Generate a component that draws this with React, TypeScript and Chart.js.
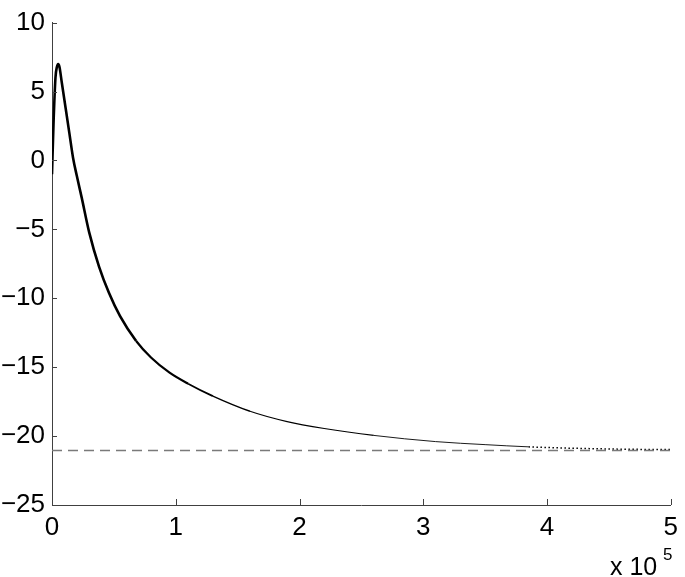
import React, { useEffect, useRef } from "react";
import { Chart, registerables } from "chart.js";

Chart.register(...registerables);

// Curve samples (x in raw units, y value)
const curveX = [
  0, 1200, 2800, 4000, 5000, 6000, 8000, 11000, 14000, 17000, 20000, 24000,
  30000, 38000, 46000, 55000, 68000, 80000, 95000, 110000, 130000, 160000,
  190000, 220000, 260000, 310000, 350000, 385000, 420000, 460000, 500000,
];
const curveY = [
  -1.0, 2.6, 6.0, 6.8, 7.0, 6.8, 5.6, 3.8, 2.0, 0.2, -1.1, -2.7,
  -5.2, -7.7, -9.6, -11.3, -13.1, -14.3, -15.4, -16.2, -17.1, -18.2,
  -18.95, -19.45, -19.95, -20.4, -20.62, -20.78, -20.88, -20.95, -20.98,
];
const refX = [0, 500000];
const refY = [-21.05, -21.05];
const xTickValues = [0, 100000, 200000, 300000, 400000, 500000];
const yTickValues = [-25, -20, -15, -10, -5, 0, 5, 10];
const exponentBase = "x 10";
const exponentPower = "5";

const FONT = "'Liberation Sans', Arial, Helvetica, sans-serif";

export default function App() {
  const ref = useRef<HTMLCanvasElement | null>(null);

  useEffect(() => {
    document.body.style.margin = "0";
    const canvas = ref.current;
    if (!canvas) return;

    const inwardTicks = {
      id: "inwardTicks",
      afterDraw(chart: any) {
        const { ctx, chartArea, scales } = chart;
        ctx.save();
        ctx.strokeStyle = "#404040";
        ctx.lineWidth = 1;
        ctx.beginPath();
        for (const v of yTickValues) {
          const py = Math.round(scales.y.getPixelForValue(v)) + 0.5;
          ctx.moveTo(chartArea.left, py);
          ctx.lineTo(chartArea.left + 5, py);
        }
        for (const v of xTickValues) {
          const px = Math.round(scales.x.getPixelForValue(v)) + 0.5;
          ctx.moveTo(px, chartArea.bottom);
          ctx.lineTo(px, chartArea.bottom - 6);
        }
        ctx.stroke();
        ctx.fillStyle = "#000";
        ctx.textAlign = "left";
        ctx.textBaseline = "alphabetic";
        ctx.font = `25px ${FONT}`;
        ctx.fillText(exponentBase, 610, 575);
        ctx.font = `17px ${FONT}`;
        ctx.fillText(exponentPower, 663, 560);
        ctx.restore();
      },
    };

    const chart = new Chart(canvas, {
      type: "line",
      data: {
        datasets: [
          {
            data: refX.map((x, i) => ({ x, y: refY[i] })),
            borderColor: "#7a7a7a",
            borderWidth: 1.5,
            borderDash: [10, 6],
            pointRadius: 0,
            fill: false,
          },
          {
            data: curveX.map((x, i) => ({ x, y: curveY[i] })),
            borderColor: "#000",
            borderWidth: 2.5,
            pointRadius: 0,
            cubicInterpolationMode: "monotone",
            fill: false,
            segment: {
              borderWidth: (c: any) => {
                const x0 = c.p0.parsed.x;
                if (x0 < 60000) return 2.6;
                if (x0 < 100000) return 2.2;
                if (x0 < 130000) return 1.8;
                if (x0 < 160000) return 1.4;
                if (x0 < 250000) return 1.1;
                if (x0 < 385000) return 0.9;
                return 1.5;
              },
              borderDash: (c: any) => (c.p0.parsed.x >= 385000 ? [1.5, 2.5] : undefined),
            },
          },
        ],
      },
      options: {
        animation: false,
        responsive: false,
        layout: { padding: { top: 20, right: 13, left: 0, bottom: 0 } },
        plugins: { legend: { display: false }, tooltip: { enabled: false } },
        scales: {
          x: {
            type: "linear",
            min: 0,
            max: 500000,
            grid: { display: false, drawTicks: false },
            border: { display: true, color: "#404040", width: 1 },
            afterFit: (s: any) => {
              s.height = 72;
            },
            afterBuildTicks: (s: any) => {
              s.ticks = xTickValues.map((v) => ({ value: v }));
            },
            ticks: {
              color: "#000",
              font: { family: FONT, size: 26 },
              padding: 7,
              maxRotation: 0,
              autoSkip: false,
              callback: (v: any) => String(Number(v) / 100000),
            },
          },
          y: {
            type: "linear",
            min: -25,
            max: 10,
            grid: { display: false, drawTicks: false },
            border: { display: true, color: "#404040", width: 1 },
            afterFit: (s: any) => {
              s.width = 52;
            },
            afterBuildTicks: (s: any) => {
              s.ticks = yTickValues.map((v) => ({ value: v }));
            },
            ticks: {
              color: "#000",
              font: { family: FONT, size: 26 },
              padding: 7,
              autoSkip: false,
              callback: (v: any) => {
                const n = Number(v);
                return n < 0 ? "\u2212" + Math.abs(n) : String(n);
              },
            },
          },
        },
      },
      plugins: [inwardTicks],
    });

    return () => chart.destroy();
  }, []);

  return <canvas ref={ref} width={685} height={577} style={{ display: "block" }} />;
}
